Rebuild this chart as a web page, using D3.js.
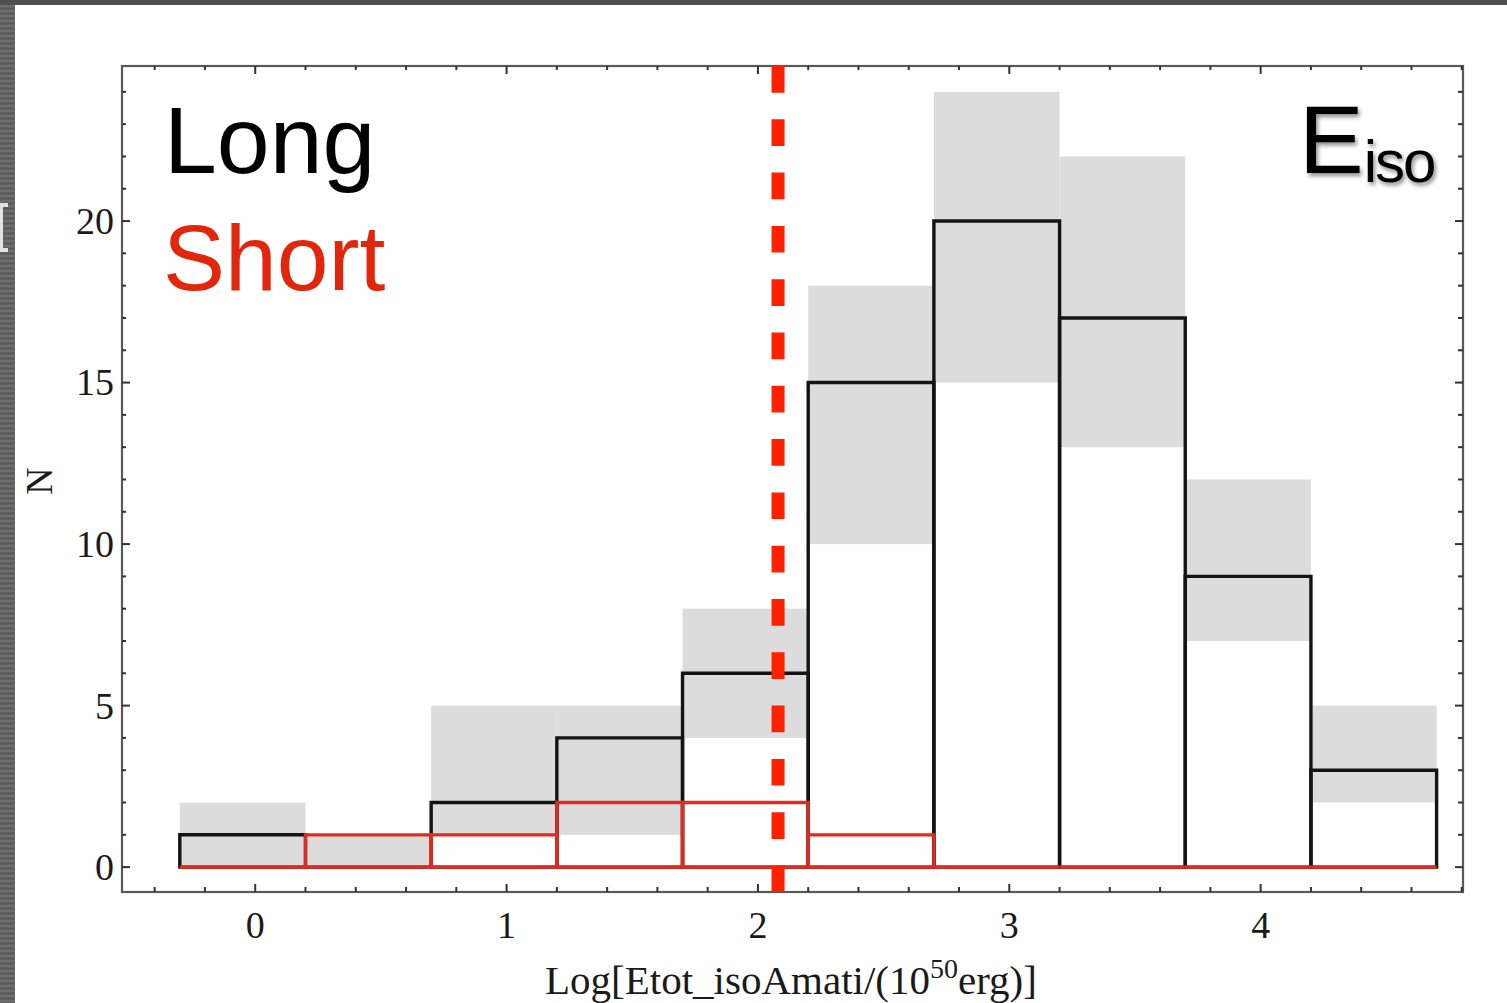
<!DOCTYPE html>
<html>
<head>
<meta charset="utf-8">
<script src="https://cdn.jsdelivr.net/npm/d3@7"></script>
<style>
  html, body { margin: 0; padding: 0; background: #ffffff; }
  svg { display: block; }
</style>
</head>
<body>
<svg id="chart" width="1507" height="1003"></svg>
<script>
// Histogram bin edges (log10 of isotropic energy in units of 1e50 erg)
const binEdges = [-0.3, 0.2, 0.7, 1.2, 1.7, 2.2, 2.7, 3.2, 3.7, 4.2, 4.7];
// Counts per bin for long bursts
const longCounts = [1, 0, 2, 4, 6, 15, 20, 17, 9, 3];
// Counts per bin for short bursts
const shortCounts = [0, 1, 1, 2, 2, 1, 0, 0, 0, 0];
// Shaded uncertainty range per bin (lower / upper)
const bandLow = [0, 0, 1, 1, 4, 10, 15, 13, 7, 2];
const bandHigh = [2, 1, 5, 5, 8, 18, 24, 22, 12, 5];
// Vertical threshold marker
const cutValue = 2.08;
// Axis tick labels
const xTickLabels = [0, 1, 2, 3, 4];
const yTickLabels = [0, 5, 10, 15, 20];

const svg = d3.select("#chart");
const W = 1507, H = 1003;

// Frame of the plot area
const frame = { left: 122, right: 1463, top: 66, bottom: 892 };

const x = d3.scaleLinear().domain([-0.53, 4.805]).range([frame.left, frame.right]);
const y = d3.scaleLinear().domain([-0.77, 24.8]).range([frame.bottom, frame.top]);

// ---- Slide background edges ----
const defs = svg.append("defs");
const stripe = defs.append("pattern")
  .attr("id", "stripes").attr("patternUnits", "userSpaceOnUse")
  .attr("width", 16).attr("height", 5);
stripe.append("rect").attr("width", 16).attr("height", 5).attr("fill", "#626262");
stripe.append("rect").attr("y", 0).attr("width", 16).attr("height", 2).attr("fill", "#6e6e6e");
stripe.append("rect").attr("y", 3).attr("width", 16).attr("height", 1).attr("fill", "#575757");

const shadow = defs.append("filter").attr("id", "txtShadow")
  .attr("x", "-20%").attr("y", "-20%").attr("width", "140%").attr("height", "140%");
shadow.append("feDropShadow").attr("dx", 2).attr("dy", 3).attr("stdDeviation", 2)
  .attr("flood-color", "#000").attr("flood-opacity", 0.45);

svg.append("rect").attr("x", 0).attr("y", 0).attr("width", W).attr("height", H).attr("fill", "#ffffff");
svg.append("rect").attr("x", 0).attr("y", 0).attr("width", 15).attr("height", H).attr("fill", "url(#stripes)");
svg.append("rect").attr("x", 0).attr("y", 0).attr("width", W).attr("height", 5).attr("fill", "#4f4f4f");
// partial white glyph on the dark margin
svg.append("path")
  .attr("d", "M0,205 H8 M1,205 V250 M0,250 H8")
  .attr("stroke", "#f0f0f0").attr("stroke-width", 4).attr("fill", "none").attr("opacity", 0.9);

const plot = svg.append("g");

const bins = longCounts.map((c, i) => ({
  x0: binEdges[i], x1: binEdges[i + 1],
  long: c, short: shortCounts[i], lo: bandLow[i], hi: bandHigh[i]
}));

// outline of one histogram bar (closed, so empty bins still draw the baseline)
const barPath = (d, v) =>
  `M${x(d.x0)},${y(0)}V${y(v)}H${x(d.x1)}V${y(0)}Z`;

// ---- Shaded ranges ----
plot.append("g").selectAll("rect").data(bins).join("rect")
  .attr("x", d => x(d.x0))
  .attr("width", d => x(d.x1) - x(d.x0))
  .attr("y", d => y(d.hi))
  .attr("height", d => y(d.lo) - y(d.hi))
  .attr("fill", "#dcdcdc");

// ---- Long burst histogram ----
plot.append("g").selectAll("path").data(bins).join("path")
  .attr("d", d => barPath(d, d.long))
  .attr("fill", "none")
  .attr("stroke", "#141414").attr("stroke-width", 3.4);

// ---- Short burst histogram ----
plot.append("g").selectAll("path").data(bins).join("path")
  .attr("d", d => barPath(d, d.short))
  .attr("fill", "none")
  .attr("stroke", "#e32a20").attr("stroke-width", 3.3);

// ---- Frame and ticks ----
const frameG = svg.append("g");
frameG.append("rect")
  .attr("x", frame.left).attr("y", frame.top)
  .attr("width", frame.right - frame.left).attr("height", frame.bottom - frame.top)
  .attr("fill", "none").attr("stroke", "#5a5a5a").attr("stroke-width", 2.2);

const xMinor = d3.range(-0.4, 4.81, 0.2).map(v => +v.toFixed(2));
const yMinor = d3.range(0, 24.5, 1);
const isMajorX = v => Math.abs(v - Math.round(v)) < 1e-6;
const isMajorY = v => v % 5 === 0;

// bottom and top ticks (pointing inward)
frameG.append("g").selectAll("line").data(xMinor).join("line")
  .attr("x1", d => x(d)).attr("x2", d => x(d))
  .attr("y1", frame.bottom).attr("y2", d => frame.bottom - (isMajorX(d) ? 8 : 5))
  .attr("stroke", "#333").attr("stroke-width", 2);
frameG.append("g").selectAll("line").data(xMinor).join("line")
  .attr("x1", d => x(d)).attr("x2", d => x(d))
  .attr("y1", frame.top).attr("y2", d => frame.top + (isMajorX(d) ? 8 : 4))
  .attr("stroke", "#333").attr("stroke-width", 2);
// left and right ticks
frameG.append("g").selectAll("line").data(yMinor).join("line")
  .attr("x1", frame.left).attr("x2", d => frame.left + (isMajorY(d) ? 8 : 4))
  .attr("y1", d => y(d)).attr("y2", d => y(d))
  .attr("stroke", "#333").attr("stroke-width", 2);
frameG.append("g").selectAll("line").data(yMinor).join("line")
  .attr("x1", frame.right).attr("x2", d => frame.right - (isMajorY(d) ? 8 : 5))
  .attr("y1", d => y(d)).attr("y2", d => y(d))
  .attr("stroke", "#333").attr("stroke-width", 2);

// tick labels
const serif = "'Liberation Serif', 'DejaVu Serif', serif";
svg.append("g").selectAll("text").data(xTickLabels).join("text")
  .attr("x", d => x(d)).attr("y", 938)
  .attr("text-anchor", "middle")
  .attr("font-family", serif).attr("font-size", 38).attr("fill", "#1a1a1a")
  .text(d => d);
svg.append("g").selectAll("text").data(yTickLabels).join("text")
  .attr("x", 114).attr("y", d => y(d))
  .attr("dy", "0.34em")
  .attr("text-anchor", "end")
  .attr("font-family", serif).attr("font-size", 38).attr("fill", "#1a1a1a")
  .text(d => d);

// axis titles
svg.append("text")
  .attr("transform", "translate(52,481) rotate(-90)")
  .attr("text-anchor", "middle")
  .attr("font-family", serif).attr("font-size", 38).attr("fill", "#1a1a1a")
  .text("N");

const xt = svg.append("text")
  .attr("x", 791).attr("y", 994)
  .attr("text-anchor", "middle")
  .attr("font-family", serif).attr("font-size", 41).attr("fill", "#1a1a1a");
xt.append("tspan").text("Log[Etot_isoAmati/(10");
xt.append("tspan").attr("font-size", 28).attr("dy", -16).text("50");
xt.append("tspan").attr("dy", 16).text("erg)]");

// ---- Threshold marker ----
svg.append("line")
  .attr("x1", x(cutValue)).attr("x2", x(cutValue))
  .attr("y1", frame.top).attr("y2", frame.bottom)
  .attr("stroke", "#ff2200").attr("stroke-width", 13)
  .attr("stroke-dasharray", "26.7 26.6");

// ---- Legend-style labels ----
const sans = "'Liberation Sans', Arial, Helvetica, sans-serif";
svg.append("text").attr("x", 164).attr("y", 173)
  .attr("font-family", sans).attr("font-size", 95).attr("fill", "#000")
  .text("Long");
svg.append("text").attr("x", 163).attr("y", 290)
  .attr("font-family", sans).attr("font-size", 93).attr("fill", "#e2260c")
  .text("Short");

const eiso = svg.append("text").attr("x", 1299).attr("y", 173)
  .attr("font-family", sans).attr("fill", "#000")
  .attr("filter", "url(#txtShadow)");
eiso.append("tspan").attr("font-size", 97).text("E");
eiso.append("tspan").attr("font-size", 60).attr("dy", 9).attr("letter-spacing", -2).text("iso");
</script>
</body>
</html>
